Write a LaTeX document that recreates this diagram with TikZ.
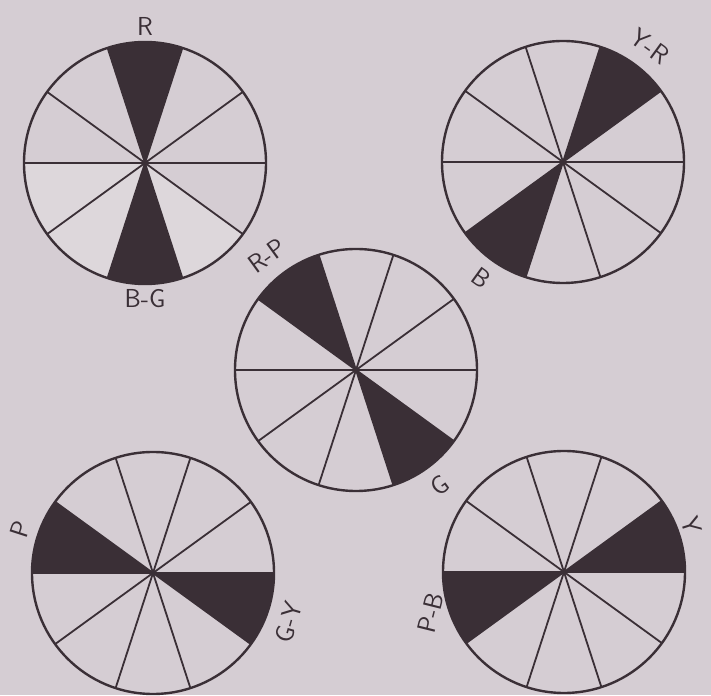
\documentclass[tikz,border=0pt]{standalone}
\usepackage{fontspec}
\usetikzlibrary{calc}
\definecolor{paper}{RGB}{213,205,211}
\definecolor{ink}{RGB}{58,47,54}
\definecolor{pale}{RGB}{221,215,219}
\tikzset{
  rim/.style={draw=ink, line width=2.4pt},
  spoke/.style={draw=ink, line width=1.8pt},
  shade/.style={fill=ink},
  hue/.style={font=\sffamily\fontsize{26}{26}\selectfont, text=ink, inner sep=0pt},
}
% wheel: name, centre, start angles of the two dark sectors
\newcommand{\wheel}[4]{%
  \coordinate (#1) at (#2);
  \fill[shade] (#1) -- ++(#3:121) arc[start angle=#3, delta angle=36, radius=121] -- cycle;
  \fill[shade] (#1) -- ++(#4:121) arc[start angle=#4, delta angle=36, radius=121] -- cycle;
  \foreach \a in {0,36,...,324} \draw[spoke] (#1) -- ++(\a:121);
  \draw[rim] (#1) circle[radius=121];
}
\begin{document}
\begin{tikzpicture}[x=1pt, y=1pt]
  \fill[paper] (0,0) rectangle (711,695);
  \useasboundingbox (0,0) rectangle (711,695);

  % paler lower sectors of the first wheel
  \foreach \a in {180,216,288}
    \fill[pale] (145,532) -- ++(\a:121) arc[start angle=\a, delta angle=36, radius=121] -- cycle;

  \wheel{red}{145,532}{72}{252}
  \wheel{yelred}{563,533}{36}{216}
  \wheel{redpur}{356,325}{108}{288}
  \wheel{purple}{153,122}{144}{324}
  \wheel{yellow}{564,123}{0}{180}

  \node[hue] (lr) at ($(red)+(90:137)$) {R};
  \node[hue] (lbg) at ($(red)+(270:136)$) {B-G};
  \node[hue, rotate=-36] (lyr) at ($(yelred)+(53:145)$) {Y-R};
  \node[hue, rotate=-36] (lb) at ($(yelred)+(235:142)$) {B};
  \node[hue, rotate=36] (lrp) at ($(redpur)+(128:145)$) {R-P};
  \node[hue, rotate=36] (lg) at ($(redpur)+(306:143)$) {G};
  \node[hue, rotate=72] (lp) at ($(purple)+(162:140)$) {P};
  \node[hue, rotate=74] (lgy) at ($(purple)+(340:144)$) {G-Y};
  \node[hue, rotate=-72] (ly) at ($(yellow)+(20:136)$) {Y};
  \node[hue, rotate=76] (lpb) at ($(yellow)+(197:139)$) {P-B};
\end{tikzpicture}
\end{document}
